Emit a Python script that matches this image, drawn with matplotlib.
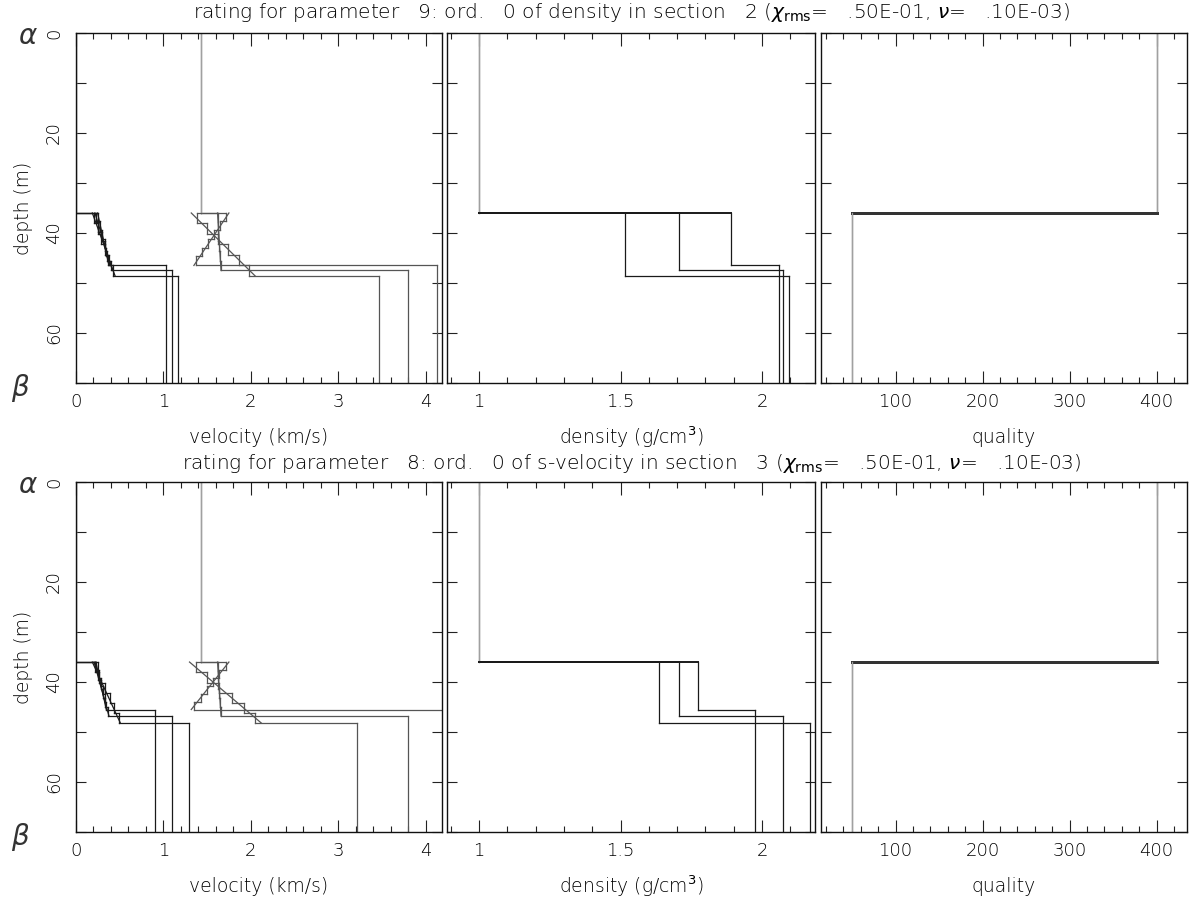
import numpy as np
import matplotlib.pyplot as plt
from matplotlib.ticker import MultipleLocator, FuncFormatter

# common model pieces (depth in m)
z_floor = 36.0
z_max = 70.0
vp_water = 1.43
vs_water = 0.0
rho_water = 1.0
q_water = 400.0
q_sed = 50.0

# ---- upper row: parameter 9 ----
top_title = (r"rating for parameter   9: ord.   0 of density in section   2 "
             r"($\chi_{\rm rms}$=   .50E-01, $\nu$=   .10E-03)")
top_sub_z = [[36.0, 37.7, 39.5, 41.2, 43.0, 44.7, 46.5],
             [36.0, 37.9, 39.8, 41.7, 43.7, 45.6, 47.5],
             [36.0, 38.1, 40.2, 42.3, 44.4, 46.5, 48.6]]
top_vp_sub = [[1.72, 1.65, 1.58, 1.51, 1.44, 1.37],
              [1.62, 1.63, 1.63, 1.64, 1.65, 1.66],
              [1.38, 1.50, 1.62, 1.74, 1.86, 1.98]]
top_vs_sub = [[0.26, 0.28, 0.30, 0.33, 0.35, 0.37],
              [0.23, 0.26, 0.30, 0.33, 0.36, 0.40],
              [0.21, 0.25, 0.29, 0.34, 0.38, 0.43]]
top_vp_grad = [[1.75, 1.35], [1.62, 1.66], [1.32, 2.05]]
top_vs_grad = [[0.25, 0.38], [0.22, 0.42], [0.19, 0.45]]
top_vp_half = [4.13, 3.79, 3.46]
top_vs_half = [1.03, 1.10, 1.17]
top_rho_layer = [1.89, 1.705, 1.517]
top_rho_half = [2.06, 2.075, 2.094]

# ---- lower row: parameter 8 ----
bot_title = (r"rating for parameter   8: ord.   0 of s-velocity in section   3 "
             r"($\chi_{\rm rms}$=   .50E-01, $\nu$=   .10E-03)")
bot_sub_z = [[36.0, 37.6, 39.1, 40.7, 42.3, 43.9, 45.5],
             [36.0, 37.8, 39.6, 41.4, 43.2, 45.0, 46.8],
             [36.0, 38.0, 40.1, 42.1, 44.1, 46.2, 48.2]]
bot_vp_sub = [[1.72, 1.64, 1.57, 1.50, 1.43, 1.35],
              [1.62, 1.63, 1.63, 1.64, 1.65, 1.66],
              [1.37, 1.50, 1.64, 1.78, 1.92, 2.05]]
bot_vs_sub = [[0.25, 0.27, 0.29, 0.31, 0.33, 0.35],
              [0.23, 0.26, 0.29, 0.31, 0.34, 0.37],
              [0.22, 0.27, 0.33, 0.39, 0.44, 0.50]]
bot_vp_grad = [[1.75, 1.32], [1.62, 1.66], [1.30, 2.12]]
bot_vs_grad = [[0.23, 0.35], [0.21, 0.38], [0.19, 0.51]]
bot_vp_half = [4.30, 3.80, 3.21]
bot_vs_half = [0.91, 1.10, 1.29]
bot_rho_layer = [1.774, 1.705, 1.636]
bot_rho_half = [1.976, 2.074, 2.17]

LIGHT = '#a0a0a0'
MID = '#555555'
DARK = '#1a1a1a'
LW = 0.9


def draw_profile(ax, z_edges, values, c_water, c_vert, c_horiz, lw_h=LW):
    for i, v in enumerate(values):
        ax.plot([v, v], [z_edges[i], z_edges[i + 1]],
                color=c_water if i == 0 else c_vert, lw=LW)
        if i + 1 < len(values):
            ax.plot([v, values[i + 1]], [z_edges[i + 1], z_edges[i + 1]],
                    color=c_horiz, lw=lw_h if i == 0 else LW)


def style_axis(ax, xlim, xmajor, xminor):
    ax.set_xlim(xlim)
    ax.set_ylim(z_max, 0)
    ax.xaxis.set_major_locator(MultipleLocator(xmajor))
    ax.xaxis.set_minor_locator(MultipleLocator(xminor))
    ax.xaxis.set_major_formatter(FuncFormatter(lambda v, p: f"{v:g}"))
    ax.yaxis.set_major_locator(MultipleLocator(20))
    ax.yaxis.set_minor_locator(MultipleLocator(10))
    ax.tick_params(which='both', direction='in', top=True, right=True,
                   width=0.8, color='#222222', labelsize=13)
    ax.tick_params(axis='x', which='major', length=9, pad=7)
    ax.tick_params(axis='x', which='minor', length=4.5)
    ax.tick_params(axis='y', which='both', length=7)
    for s in ax.spines.values():
        s.set_linewidth(1.0)
        s.set_color('#111111')
    for t in ax.get_xticklabels():
        t.set_fontweight('light')


def draw_row(y0, title, sub_z, vp_sub, vs_sub, vp_grad, vs_grad,
             vp_half, vs_half, rho_layer, rho_half, title_y, a_y, b_y):
    h = 0.3893
    ax1 = fig.add_axes([0.0634, y0, 0.3065, h])
    ax2 = fig.add_axes([0.3744, y0, 0.3082, h])
    ax3 = fig.add_axes([0.6874, y0, 0.3068, h])

    for k in range(3):
        zb = sub_z[k][-1]
        # p-velocity
        draw_profile(ax1, [0.0] + sub_z[k] + [z_max],
                     [vp_water] + vp_sub[k] + [vp_half[k]], LIGHT, MID, MID)
        ax1.plot(vp_grad[k], [z_floor, zb], color=MID, lw=LW)
        # s-velocity
        draw_profile(ax1, [0.0] + sub_z[k] + [z_max],
                     [vs_water] + vs_sub[k] + [vs_half[k]], LIGHT, DARK, DARK)
        ax1.plot(vs_grad[k], [z_floor, zb], color=DARK, lw=LW)
        # density
        draw_profile(ax2, [0.0, z_floor, zb, z_max],
                     [rho_water, rho_layer[k], rho_half[k]], LIGHT, DARK, DARK,
                     lw_h=1.4)
        # quality
        draw_profile(ax3, [0.0, z_floor, z_max],
                     [q_water, q_sed], LIGHT, LIGHT, '#333333', lw_h=2.0)

    style_axis(ax1, (0, 4.18), 1, 0.2)
    style_axis(ax2, (0.887, 2.187), 0.5, 0.1)
    style_axis(ax3, (14, 435), 100, 20)

    ax1.tick_params(axis='y', labelrotation=90, pad=9)
    for t in ax1.get_yticklabels():
        t.set_va('center')
        t.set_fontweight('light')
    ax2.set_yticklabels([])
    ax3.set_yticklabels([])

    ax1.set_ylabel('depth (m)', fontsize=13.5, fontweight='light')
    ax1.yaxis.set_label_coords(-0.118, 0.5)
    labels = ['velocity (km/s)', r'density (g/cm$^3$)', 'quality']
    for ax, lab in zip([ax1, ax2, ax3], labels):
        ax.set_xlabel(lab, fontsize=13.5, fontweight='light')
        ax.xaxis.set_label_coords(0.5, -0.155)
        ax.xaxis.label.set_va('center')

    fig.text(0.529, title_y, title, ha='center', va='center', fontsize=14.5,
             fontweight='light')
    fig.text(0.0235, a_y, r'$\alpha$', ha='center', va='center', fontsize=20,
             color='#333333')
    fig.text(0.0168, b_y, r'$\beta$', ha='center', va='center', fontsize=20,
             color='#333333')


fig = plt.figure(figsize=(11.94, 8.99), dpi=100)

draw_row(0.574, top_title, top_sub_z, top_vp_sub, top_vs_sub, top_vp_grad,
         top_vs_grad, top_vp_half, top_vs_half, top_rho_layer, top_rho_half,
         1 - 13 / 899, 1 - 36 / 899, 1 - 388 / 899)
draw_row(0.0745, bot_title, bot_sub_z, bot_vp_sub, bot_vs_sub, bot_vp_grad,
         bot_vs_grad, bot_vp_half, bot_vs_half, bot_rho_layer, bot_rho_half,
         1 - 463 / 899, 1 - 485 / 899, 1 - 837 / 899)

fig.savefig('out.png', dpi=100)
